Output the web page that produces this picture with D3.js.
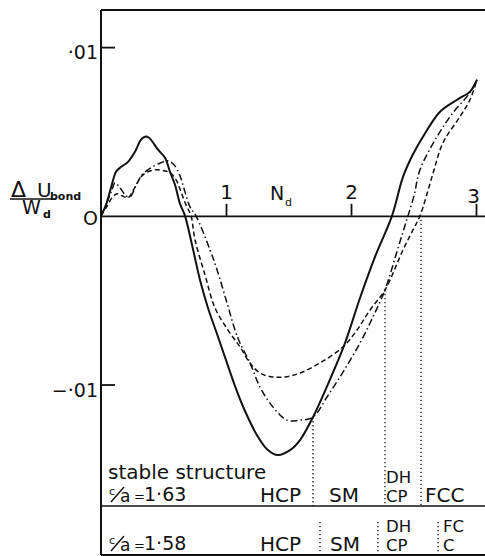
<!DOCTYPE html>
<html>
<head>
<meta charset="utf-8">
<script src="https://cdn.jsdelivr.net/npm/d3@7"></script>
<style>
  html, body { margin: 0; padding: 0; background: #fff; }
  svg text { font-family: "DejaVu Sans", sans-serif; fill: #111; }
</style>
</head>
<body>
<svg id="chart" width="485" height="556"></svg>
<script>
// ---- data (N_d, ΔU_bond / W_d) ----
const solidCurve = [
  [0,0],[0.04,0.00065],[0.08,0.00166],[0.12,0.00261],[0.152,0.00285],[0.216,0.0032],
  [0.272,0.0038],[0.32,0.00451],[0.352,0.00469],[0.384,0.00463],[0.456,0.00392],
  [0.512,0.00344],[0.552,0.00261],[0.592,0.00184],[0.632,0.00071],[0.672,0],
  [0.728,-0.00172],[0.792,-0.0038],[0.856,-0.00546],[0.928,-0.007],[1.0,-0.00855],
  [1.072,-0.01009],[1.152,-0.01157],[1.248,-0.013],[1.328,-0.01383],[1.416,-0.01418],
  [1.512,-0.01389],[1.592,-0.01329],[1.696,-0.01193],[1.816,-0.00997],[1.952,-0.00754],
  [2.072,-0.00487],[2.192,-0.00243],[2.328,0],[2.416,0.00231],[2.496,0.00365],
  [2.576,0.00469],[2.712,0.00617],[2.848,0.00688],[2.952,0.00736],[3.008,0.00807]
];
const dashedCurve = [
  [0,0],[0.04,0.00047],[0.088,0.00107],[0.128,0.00131],[0.168,0.00119],[0.216,0.00107],
  [0.264,0.0016],[0.32,0.00231],[0.376,0.00261],[0.44,0.00273],[0.504,0.00267],
  [0.552,0.00255],[0.6,0.00214],[0.64,0.00142],[0.68,0.00065],[0.72,0],
  [0.752,-0.00142],[0.832,-0.0035],[0.912,-0.00546],[1.016,-0.00677],[1.112,-0.00777],
  [1.192,-0.00872],[1.272,-0.00932],[1.376,-0.00955],[1.472,-0.00955],[1.592,-0.00932],
  [1.752,-0.00872],[1.936,-0.00777],[2.048,-0.00677],[2.152,-0.00558],[2.272,-0.00439],
  [2.416,-0.00202],[2.496,-0.00083],[2.552,0],[2.648,0.00231],[2.736,0.00433],
  [2.872,0.00588],[2.952,0.00688],[3.008,0.00807]
];
const dashDotCurve = [
  [0,0],[0.04,0.00065],[0.088,0.00154],[0.112,0.00196],[0.152,0.00166],[0.2,0.00119],
  [0.232,0.00113],[0.28,0.00178],[0.328,0.00243],[0.4,0.00285],[0.48,0.00315],
  [0.536,0.00326],[0.584,0.00303],[0.632,0.00237],[0.672,0.00142],[0.712,0.00053],
  [0.76,0],[0.872,-0.00202],[0.928,-0.0032],[1.008,-0.00516],[1.072,-0.00677],
  [1.112,-0.00754],[1.192,-0.00872],[1.272,-0.01015],[1.376,-0.01134],[1.488,-0.01211],
  [1.592,-0.01211],[1.696,-0.01193],[1.808,-0.01074],[1.936,-0.00926],[2.072,-0.00754],
  [2.176,-0.00599],[2.272,-0.00439],[2.36,-0.00231],[2.416,-0.00095],[2.456,0],
  [2.504,0.00119],[2.552,0.00273],[2.688,0.00469],[2.816,0.00611],[2.952,0.0073],
  [3.008,0.00807]
];
const xTickValues = [1, 2, 3];
const xTickLabels = ["1", "2", "3"];
const yTickValues = [0.01, 0, -0.01];
const yTickLabels = ["·01", "O", "−·01"];
// stability boundaries: [N_d where dotted line sits, ΔU where it starts]
const bounds163 = [[1.696, -0.01193], [2.272, -0.00439], [2.56, 0]];
const bounds158 = [1.752, 2.216, 2.696];
const labels163 = [["HCP"], ["SM"], ["DH", "CP"], ["FCC"]];
const labels158 = [["HCP"], ["SM"], ["DH", "CP"], ["FC", "C"]];
const labelN163 = [1.272, 1.824, 2.28, 2.592];
const labelN158 = [1.272, 1.832, 2.28, 2.736];

// ---- layout ----
const svg = d3.select("#chart");
const x = d3.scaleLinear().domain([0, 3.072]).range([101, 485]);
const y = d3.scaleLinear().domain([-0.0172, 0.0122]).range([506, 10]);
const ink = "#111";
const row1Top = 506, bottomY = 555;

// frame
svg.append("line").attr("x1", 101).attr("x2", 101).attr("y1", 10).attr("y2", bottomY)
  .attr("stroke", ink).attr("stroke-width", 2);
svg.append("line").attr("x1", 101).attr("x2", 485).attr("y1", 10).attr("y2", 10)
  .attr("stroke", ink).attr("stroke-width", 2);
svg.append("line").attr("x1", 101).attr("x2", 485).attr("y1", row1Top).attr("y2", row1Top)
  .attr("stroke", ink).attr("stroke-width", 1.6);
svg.append("line").attr("x1", 101).attr("x2", 485).attr("y1", bottomY).attr("y2", bottomY)
  .attr("stroke", ink).attr("stroke-width", 2);

// zero axis with ticks pointing up
const xAxis = d3.axisTop(x).tickValues(xTickValues).tickSize(12).tickSizeOuter(0)
  .tickPadding(5).tickFormat((d, i) => xTickLabels[i]);
const gx = svg.append("g").attr("transform", `translate(0,${y(0)})`).call(xAxis);
gx.select(".domain").attr("stroke", ink).attr("stroke-width", 1.8);
gx.selectAll(".tick line").attr("stroke", ink).attr("stroke-width", 1.8);
gx.selectAll(".tick text").attr("font-size", 20).attr("font-family", "DejaVu Sans").attr("fill", ink);
gx.selectAll(".tick").filter(d => d === 3).select("text").attr("dx", -3).attr("dy", 4);

// y axis ticks pointing right
const yAxis = d3.axisRight(y).tickValues(yTickValues.filter(v => v !== 0)).tickSize(14)
  .tickSizeOuter(0).tickFormat("");
const gy = svg.append("g").attr("transform", "translate(101,0)").call(yAxis);
gy.select(".domain").remove();
gy.selectAll(".tick line").attr("stroke", ink).attr("stroke-width", 1.8);
svg.selectAll(".ytl").data(yTickValues).enter().append("text")
  .attr("class", "ytl")
  .attr("x", 98).attr("y", d => y(d) + (d === 0 ? 9 : 12))
  .attr("text-anchor", "end").attr("font-size", 19)
  .text((d, i) => yTickLabels[i]);

// N_d label
svg.append("text").attr("x", 270).attr("y", 200).attr("font-size", 19).text("N");
svg.append("text").attr("x", 285).attr("y", 206).attr("font-size", 11).text("d");

// y label
svg.append("text").attr("x", 11).attr("y", 197).attr("font-size", 22).text("Δ");
svg.append("text").attr("x", 37).attr("y", 197).attr("font-size", 20).text("U");
svg.append("text").attr("x", 50).attr("y", 200).attr("font-size", 11).attr("font-weight", "bold").text("bond");
svg.append("line").attr("x1", 10).attr("x2", 56).attr("y1", 199).attr("y2", 199)
  .attr("stroke", ink).attr("stroke-width", 1.5);
svg.append("text").attr("x", 22).attr("y", 214).attr("font-size", 19).text("W");
svg.append("text").attr("x", 43).attr("y", 218).attr("font-size", 11).attr("font-weight", "bold").text("d");

// curves
const line = d3.line().x(d => x(d[0])).y(d => y(d[1])).curve(d3.curveCatmullRom.alpha(0.5));
svg.append("path").datum(dashedCurve).attr("d", line).attr("fill", "none")
  .attr("stroke", ink).attr("stroke-width", 1.5).attr("stroke-dasharray", "5,3");
svg.append("path").datum(dashDotCurve).attr("d", line).attr("fill", "none")
  .attr("stroke", ink).attr("stroke-width", 1.5).attr("stroke-dasharray", "7,3,1.5,3");
svg.append("path").datum(solidCurve).attr("d", line).attr("fill", "none")
  .attr("stroke", ink).attr("stroke-width", 2);

// dotted stability boundaries
svg.selectAll(".b163").data(bounds163).enter().append("line").attr("class", "b163")
  .attr("x1", d => x(d[0])).attr("x2", d => x(d[0]))
  .attr("y1", d => y(d[1])).attr("y2", row1Top)
  .attr("stroke", ink).attr("stroke-width", 1.3).attr("stroke-dasharray", "1.3,2.7");
svg.selectAll(".b158").data(bounds158).enter().append("line").attr("class", "b158")
  .attr("x1", d => x(d)).attr("x2", d => x(d))
  .attr("y1", 522).attr("y2", bottomY)
  .attr("stroke", ink).attr("stroke-width", 1.3).attr("stroke-dasharray", "1.3,2.7");

// structure row labels
svg.append("text").attr("x", 108).attr("y", 479).attr("font-size", 20).text("stable structure");
function caLabel(yBase, val) {
  svg.append("text").attr("x", 109).attr("y", yBase - 6).attr("font-size", 11).text("c");
  svg.append("line").attr("x1", 111).attr("x2", 124).attr("y1", yBase + 1).attr("y2", yBase - 14)
    .attr("stroke", ink).attr("stroke-width", 1.4);
  svg.append("text").attr("x", 120).attr("y", yBase + 1).attr("font-size", 17).text("a");
  svg.append("text").attr("x", 134).attr("y", yBase).attr("font-size", 13).text("=");
  svg.append("text").attr("x", 144).attr("y", yBase).attr("font-size", 19).text(val);
}
caLabel(501, "1·63");
caLabel(550, "1·58");

function rowLabels(labels, ns, baseY) {
  labels.forEach((lines, i) => {
    lines.forEach((t, j) => {
      svg.append("text").attr("x", x(ns[i]))
        .attr("y", baseY - (lines.length - 1 - j) * 19)
        .attr("font-size", lines.length > 1 ? 16.5 : 20).text(t);
    });
  });
}
rowLabels(labels163, labelN163, 502);
rowLabels(labels158, labelN158, 551);
</script>
</body>
</html>
